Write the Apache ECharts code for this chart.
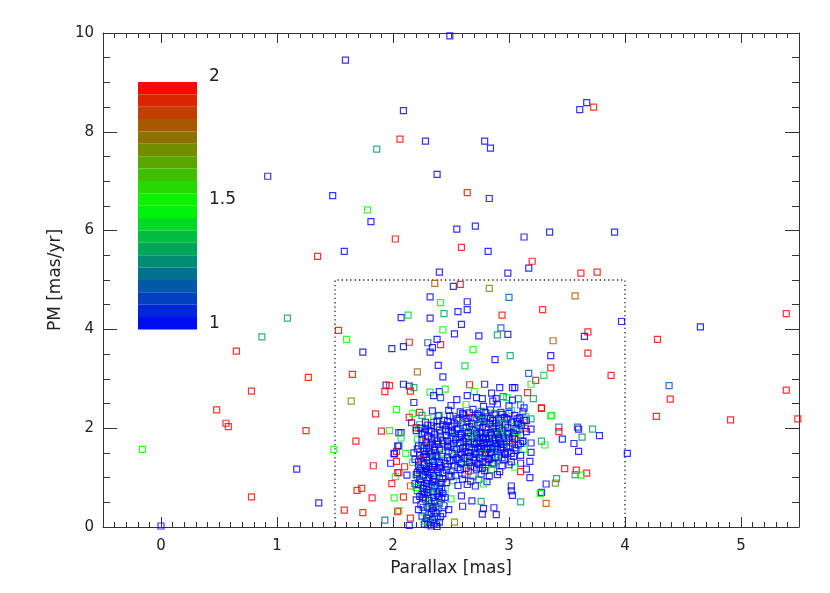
<!DOCTYPE html>
<html>
<head>
<meta charset="utf-8">
<script src="https://cdn.jsdelivr.net/npm/echarts@6/dist/echarts.min.js"></script>
<style>
html, body { margin: 0; padding: 0; background: #fff; }
#pmChart { width: 830px; height: 593px; }
</style>
</head>
<body>
<div id="pmChart"></div>
<script>
// each star: [parallax (mas), PM (mas/yr), colour value 1..2]
var outerStars = [
  [0.00,0.02,1],[-0.16,1.57,1.5],[0.48,2.37,2],[0.56,2.10,2],[0.58,2.03,2],[0.65,3.56,2],
  [0.78,2.75,2],[0.78,0.61,2],[0.87,3.85,1.3],[0.92,7.10,1],[1.09,4.23,1.3],[1.17,1.17,1],
  [1.25,1.95,2],[1.27,3.03,2],[1.35,5.48,2],[1.36,0.49,1],[1.48,6.71,1],[1.49,1.57,1.5],
  [1.59,9.45,1],[1.58,5.58,1],[1.78,6.42,1.5],[1.81,6.18,1],[1.86,7.65,1.3],[2.02,5.83,2],
  [2.06,7.85,2],[2.09,8.43,1],[2.28,7.81,1],[2.38,7.14,1],[2.49,9.94,1],[2.55,6.03,1],
  [2.59,5.66,2],[2.64,6.77,2],[2.71,6.09,1],[2.79,7.81,1],[2.84,7.67,1],[2.83,6.65,1],
  [2.82,5.58,1],[2.40,5.16,1],[2.99,5.14,1],[3.13,5.87,1],[3.35,5.97,1],[3.20,5.38,2],
  [3.17,5.24,1],[3.62,5.14,2],[3.76,5.16,2],[3.61,8.45,1],[3.67,8.59,1],[3.73,8.50,2],
  [3.91,5.97,1],[4.02,1.49,1],[4.27,2.24,2],[4.28,3.80,2],[4.38,2.86,1.15],[4.39,2.59,2],
  [4.65,4.05,1],[4.91,2.17,2],[5.39,4.32,2],[5.39,2.77,2],[5.49,2.19,2]
];

var boxStars = [
  [2.36,4.93,1.85],[2.52,4.87,1],[2.58,4.91,2],[2.83,4.83,1.75],[3.57,4.68,1.85],[2.32,4.66,1],
  [3.00,4.65,1.15],[2.41,4.54,1.5],[2.64,4.56,1],[2.64,4.40,1],[2.56,4.36,1],[2.44,4.32,1.3],
  [2.94,4.29,2],[3.29,4.40,2],[2.07,4.24,1],[2.13,4.29,1.4],[2.32,4.23,1],[3.97,4.16,1],
  [2.59,4.10,1],[1.53,3.98,2],[2.43,3.99,1.5],[2.53,3.91,1],[2.74,3.87,1],[2.93,4.03,1.15],
  [2.90,3.89,1.3],[2.99,3.90,1],[3.68,3.95,2],[3.65,3.86,1],[3.38,3.77,1.85],[1.60,3.80,1.5],
  [2.14,3.74,2],[2.38,3.80,1],[2.30,3.73,1.15],[2.41,3.69,2],[2.09,3.65,1],[2.34,3.63,1],
  [2.32,3.54,1],[1.99,3.61,1],[1.74,3.54,1],[2.69,3.59,1.5],[3.01,3.47,1.3],[2.88,3.39,1],
  [3.36,3.47,1],[3.68,3.52,2],[2.39,3.27,1],[2.62,3.26,1.4],[2.21,3.14,1.8],[2.43,3.04,1],
  [1.65,3.09,2],[3.17,3.11,1.15],[3.30,3.07,1.4],[3.36,3.22,2],[3.23,2.97,2],[3.88,3.07,2],
  [1.94,2.87,1],[1.97,2.86,2],[1.93,2.74,2],[1.64,2.55,1.75],[1.85,2.29,2],[2.03,2.38,1.5],
  [1.90,1.94,2],[1.97,1.95,1.5],[2.05,1.91,1],[1.68,1.74,2],[2.04,1.64,1],[2.03,1.53,2],
  [2.01,1.48,1],[1.83,1.24,2],[1.98,1.29,1],[2.03,1.33,2],[2.04,1.10,2],[2.02,1.02,1.5],
  [1.99,0.88,2],[1.69,0.74,2],[1.73,0.78,2],[1.82,0.59,2],[2.01,0.59,1.5],[1.58,0.34,2],
  [1.74,0.29,2],[2.04,0.31,2],[2.05,0.33,1.5],[1.93,0.14,1.2],
  [3.28,2.40,2],[3.36,2.25,1.5],[3.43,2.02,1.2],[3.43,1.93,2],[3.59,2.02,1.15],[3.60,1.98,1],
  [3.72,1.98,1.3],[3.78,1.85,1],[3.63,1.82,1.25],[3.46,1.78,1],[3.56,1.69,1],[3.60,1.53,1],
  [3.28,1.74,1.3],[3.31,1.66,1.5],[3.48,1.18,2],[3.58,1.15,2],[3.67,1.09,2],[3.57,1.06,1.3],
  [3.62,1.05,1.5],[3.41,0.98,1.3],[3.40,0.89,1.75],[3.32,0.87,1],[3.28,0.70,1],[3.27,0.68,1.5],
  [3.32,0.48,1.85]
];

var haloStars = [
  [2.09,2.89,1],[2.14,2.85,1],[2.18,2.82,1.3],[2.15,2.75,2],[2.32,2.73,1.5],[2.40,2.74,1],
  [2.45,2.79,1.5],[2.35,2.66,1],[2.41,2.62,1.15],[2.66,2.88,2],[2.79,2.89,1],[2.92,2.82,1],
  [3.03,2.82,1],[3.05,2.82,1],[2.70,2.74,1.5],[2.64,2.66,1],[2.77,2.60,1],[2.85,2.71,1],
  [2.89,2.60,1],[2.98,2.62,1.5],[3.08,2.60,1.3],[3.16,2.72,2],[3.19,2.89,1.5],[3.21,2.60,1.3],
  [2.18,2.52,1],[2.14,2.22,2],[2.17,2.30,1.5],[2.23,2.32,2],[2.25,2.26,1.3],[2.34,2.35,1],
  [2.40,2.26,1.5],[3.13,2.41,1],[3.28,2.41,2],[3.37,2.26,1.5],[3.19,2.19,1.3],[3.07,2.19,1],
  [2.16,2.11,1],[2.30,2.06,1],[2.20,2.01,2],[2.22,1.99,1.5],[2.07,1.91,1],[2.07,1.80,1.5],
  [2.05,1.64,1],[2.01,1.49,1],[2.11,1.49,1.5],[2.17,1.31,1.5],[2.05,1.10,2],[2.10,1.22,2],
  [2.12,1.05,1],[2.15,0.83,1.85],[2.21,1.02,1.5],[2.09,0.61,2],[2.15,0.18,2],[2.14,0.03,1],
  [2.53,0.10,1.75],[2.30,0.10,1.5],[2.38,0.01,1],[3.10,0.51,1.3],[3.02,0.73,1],[3.03,0.64,1],
  [2.87,0.39,1],[2.89,0.25,1],[2.78,0.37,1],[2.77,0.26,1],[2.68,0.53,1],[2.76,0.52,1.3],
  [2.60,0.42,1],[2.59,0.63,1],[2.50,0.57,1.5],[2.42,0.76,1],[3.19,1.51,1],[3.18,1.33,1],
  [3.15,1.17,1],[3.18,1.00,1],[3.10,1.12,2],[3.15,2.16,1],[3.19,1.98,1],[3.14,2.00,2],
  [3.10,2.06,1.3],[3.12,1.73,1.3],[3.19,1.70,1],[3.05,1.79,1],[3.10,1.29,1],[3.05,1.21,1.5],
  [3.02,0.83,1]
];

// narrow vertical group near parallax 2.3
var coreA = [
  [2.30,0.05,1],[2.33,0.02,1],[2.36,0.08,1],[2.28,0.12,1.5],[2.34,0.15,1],[2.38,0.18,1.25],
  [2.25,0.22,1],[2.31,0.25,1],[2.41,0.21,1],[2.27,0.30,1.5],[2.35,0.33,1],[2.22,0.35,1],
  [2.39,0.37,1.5],[2.30,0.40,1],[2.44,0.43,1],[2.24,0.45,1],[2.33,0.47,1.25],[2.36,0.52,1],
  [2.20,0.55,1],[2.28,0.57,1],[2.42,0.58,1],[2.31,0.62,1.5],[2.25,0.66,1],[2.38,0.67,1],
  [2.34,0.71,1],[2.21,0.73,1.2],[2.29,0.76,1],[2.45,0.77,1.5],[2.40,0.81,1],[2.26,0.84,1],
  [2.33,0.86,1],[2.19,0.88,1],[2.37,0.91,1.3],[2.30,0.94,1],[2.23,0.97,1],[2.43,0.98,1],
  [2.27,1.02,1.5],[2.35,1.04,1],[2.20,1.06,1],[2.32,1.09,1],[2.39,1.11,1],[2.25,1.14,1.25],
  [2.46,1.15,1],[2.29,1.18,1],[2.36,1.21,2],[2.22,1.23,1],[2.41,1.25,1],[2.31,1.28,1],
  [2.26,1.31,1.5],[2.34,1.33,1],[2.44,1.35,1.25],[2.19,1.37,1],[2.38,1.40,1],[2.29,1.42,1],
  [2.23,1.45,1],[2.33,1.48,1],[2.42,1.50,1.5],[2.27,1.53,1],[2.36,1.55,1],[2.21,1.58,1],
  [2.31,1.61,1.2],[2.47,1.62,1],[2.25,1.65,1],[2.39,1.67,1],[2.34,1.70,1],[2.28,1.73,2],
  [2.43,1.75,1],[2.21,1.78,1.5],[2.36,1.80,1],[2.30,1.84,1],[2.25,1.88,1],[2.41,1.90,1.25],
  [2.33,1.93,1],[2.28,1.98,1],[2.38,2.03,1],[2.23,2.07,1.3],[2.35,2.12,1],[2.44,2.16,1],
  [2.30,2.20,1.5],[2.39,2.25,1],[2.32,0.10,1],[2.37,0.28,1],[2.29,0.49,1.5],[2.35,0.60,1],
  [2.27,0.69,1],[2.40,0.72,1],[2.32,0.79,1.25],[2.24,0.91,1],[2.36,0.96,1],[2.31,1.00,1],
  [2.38,1.07,1.5],[2.28,1.12,1],[2.33,1.16,1],[2.24,1.19,1],[2.40,1.20,1],[2.30,1.35,1],
  [2.35,1.38,1.5],[2.27,1.47,1],[2.40,1.58,1],[2.32,1.66,1],[2.26,1.60,1.25],[2.37,1.45,1],
  [2.45,1.28,1],[2.21,1.10,1],[2.42,0.90,1],[2.26,0.60,1],[2.34,0.38,1],[2.40,0.48,1.25],
  [2.20,0.80,1.5],[2.48,1.05,1],[2.18,1.50,1],[2.46,1.85,1],[2.20,1.95,1],[2.31,1.52,1],
  [2.34,1.24,1],[2.29,0.88,1],[2.36,0.74,1.5],[2.24,1.38,2]
];

// broad group near parallax 2.85
var coreB = [
  [2.55,2.58,1],[2.72,2.62,1],[2.86,2.55,1],[2.95,2.64,1.25],[3.03,2.57,1],
  [2.50,2.46,1],[2.63,2.48,1.5],[2.78,2.44,1],[2.90,2.49,1],[3.00,2.45,1],[3.10,2.47,1.25],
  [2.48,2.36,1],[2.58,2.33,1],[2.69,2.38,1],[2.76,2.34,1.25],[2.84,2.37,1],[2.93,2.32,1],
  [3.02,2.36,1.5],[3.12,2.33,1],
  [2.52,2.24,1.25],[2.61,2.27,1],[2.67,2.22,2],[2.74,2.26,1],[2.81,2.23,1],[2.88,2.27,1],
  [2.96,2.22,1],[3.05,2.26,1],[3.14,2.24,1.5],
  [2.47,2.14,1],[2.56,2.16,1],[2.64,2.13,1],[2.71,2.17,1.5],[2.79,2.14,1],[2.86,2.16,1],
  [2.92,2.12,1.25],[2.99,2.17,1],[3.07,2.13,1],[3.13,2.16,1],
  [2.50,2.04,1],[2.58,2.07,1.5],[2.66,2.03,1],[2.73,2.06,1],[2.80,2.02,1],[2.84,2.08,1.25],
  [2.91,2.04,1],[2.97,2.07,1],[3.04,2.03,1.5],[3.11,2.06,1],
  [2.48,1.94,1],[2.55,1.97,1],[2.62,1.93,1.25],[2.69,1.96,1],[2.75,1.92,1],[2.82,1.97,1.8],
  [2.88,1.93,1],[2.94,1.96,1],[3.00,1.92,1],[3.07,1.95,1.25],[3.15,1.93,1],
  [2.52,1.84,1.5],[2.59,1.86,1],[2.65,1.83,1],[2.72,1.87,1],[2.78,1.84,1.3],[2.85,1.86,1],
  [2.91,1.82,1],[2.97,1.87,1.5],[3.03,1.84,1],[3.10,1.86,1],
  [2.47,1.74,1],[2.54,1.77,1],[2.61,1.73,1],[2.67,1.76,1.5],[2.74,1.72,1],[2.80,1.77,1],
  [2.86,1.74,1.25],[2.92,1.76,1],[2.98,1.72,1],[3.05,1.77,2],[3.12,1.74,1],
  [2.50,1.64,1],[2.57,1.66,1.25],[2.63,1.62,1],[2.70,1.67,1],[2.76,1.63,1],[2.83,1.66,1.5],
  [2.89,1.63,1],[2.95,1.67,1],[3.01,1.63,1.25],[3.08,1.66,1],
  [2.48,1.54,1],[2.55,1.57,1],[2.62,1.53,1],[2.68,1.56,1.25],[2.75,1.52,1],[2.81,1.57,1],
  [2.87,1.54,1.5],[2.93,1.56,1],[2.99,1.52,1],[3.06,1.55,1],[3.13,1.57,1.5],
  [2.52,1.44,1.5],[2.59,1.46,1],[2.66,1.43,1],[2.72,1.47,1],[2.79,1.44,2],[2.85,1.46,1],
  [2.91,1.42,1.25],[2.97,1.47,1],[3.04,1.43,1],[3.10,1.45,1],
  [2.49,1.34,1],[2.56,1.37,1],[2.63,1.33,1.25],[2.70,1.36,1],[2.77,1.32,1],[2.83,1.37,1],
  [2.90,1.34,1.5],[2.96,1.36,1],[3.02,1.32,1],
  [2.53,1.24,1],[2.60,1.27,1.5],[2.67,1.23,1],[2.74,1.26,1],[2.80,1.22,1.25],[2.87,1.27,1],
  [2.94,1.24,1],[3.00,1.26,1],
  [2.50,1.14,1.25],[2.58,1.16,1],[2.65,1.13,2],[2.72,1.17,1],[2.79,1.14,1],[2.85,1.16,1.5],
  [2.92,1.12,1],
  [2.54,1.04,1],[2.62,1.06,1],[2.69,1.03,1.25],[2.76,1.07,1],[2.83,1.03,1],[2.90,1.06,1],
  [2.52,0.94,1.5],[2.60,0.97,1],[2.67,0.93,1],[2.74,0.96,1.25],[2.81,0.92,1],
  [2.56,0.84,1],[2.64,0.86,1],[2.71,0.83,1],[2.78,0.87,1.5],
  [2.80,1.80,1],[2.84,1.70,1],[2.88,1.78,1],[2.78,1.68,1],[2.90,1.88,1],[2.76,1.90,1],
  [2.82,1.60,1],[2.87,1.92,1.25],[2.93,1.70,1],[2.73,1.80,1],[2.95,1.80,1],[2.70,1.72,1],
  [2.86,2.00,1],[2.80,1.50,1],[2.90,1.58,1],[2.75,1.58,1],[2.68,1.88,1.5],[2.98,1.62,1],
  [2.83,2.10,1],[2.77,2.20,1]
];

// extra fill of the densest parts of both groups
var coreC = [
  [2.60,2.30,1],[2.66,2.31,1],[2.73,2.29,1],[2.80,2.31,1],[2.87,2.30,1.25],[2.94,2.28,1],[3.00,2.30,1],
  [2.55,2.19,1],[2.63,2.20,1],[2.70,2.21,1],[2.77,2.18,1.3],[2.84,2.20,1],[2.91,2.19,1],[2.98,2.20,1],[3.09,2.21,1],
  [2.53,2.10,1],[2.60,2.11,1.2],[2.68,2.09,1],[2.75,2.11,1],[2.89,2.10,1],[2.95,2.09,1.5],[3.02,2.11,1],[3.08,2.09,1],
  [2.56,2.00,1],[2.63,2.01,1],[2.70,1.99,1.3],[2.77,2.01,1],[2.92,2.00,1],[2.99,2.01,1],[3.06,1.99,1],
  [2.51,1.90,1],[2.58,1.89,1],[2.65,1.91,1],[2.72,1.90,1],[2.80,1.89,1],[2.84,1.91,1],[2.93,1.90,1.3],[2.99,1.88,1],[3.04,1.90,1],
  [2.50,1.80,1],[2.57,1.81,1],[2.63,1.79,1],[2.70,1.80,1.2],[2.77,1.81,1],[2.83,1.79,1],[2.91,1.79,1],[3.00,1.80,1],[3.07,1.81,1.5],
  [2.52,1.69,1],[2.58,1.71,1],[2.65,1.70,1],[2.72,1.69,1],[2.81,1.71,1],[2.88,1.69,1],[2.96,1.71,1.25],[3.03,1.70,1],[3.10,1.69,1],
  [2.53,1.60,1.2],[2.60,1.59,1],[2.66,1.61,1],[2.73,1.60,1],[2.79,1.59,1],[2.86,1.60,1],[2.93,1.61,1],[3.05,1.60,1],
  [2.51,1.49,1],[2.58,1.50,1],[2.65,1.51,1],[2.71,1.50,1],[2.77,1.49,1.3],[2.84,1.51,1],[2.96,1.50,1],[3.02,1.49,1],
  [2.55,1.40,1],[2.62,1.39,1],[2.69,1.41,1],[2.75,1.40,1],[2.82,1.39,1],[2.88,1.41,1],[2.94,1.40,1],
  [2.59,1.30,1],[2.66,1.31,1],[2.73,1.29,1],[2.80,1.31,1],[2.86,1.30,1],
  [2.56,1.20,1],[2.63,1.19,1],[2.70,1.21,1],[2.77,1.19,1]
];

var coreD = [
  [2.27,0.06,1],[2.40,0.10,1],[2.29,0.18,1],[2.43,0.27,1],[2.33,0.30,1],[2.26,0.40,1],[2.37,0.42,1],
  [2.31,0.54,1],[2.23,0.62,1],[2.39,0.62,1],[2.30,0.70,1],[2.43,0.68,1],[2.26,0.78,1],[2.36,0.83,1],
  [2.22,0.86,1],[2.34,0.92,1],[2.40,0.99,1],[2.26,1.05,1],[2.30,1.10,1],[2.43,1.09,1],[2.23,1.15,1],
  [2.38,1.16,1],[2.31,1.22,1],[2.27,1.26,1],[2.40,1.31,1],[2.22,1.32,1],[2.34,1.43,1],[2.26,1.41,1],
  [2.42,1.43,1],[2.29,1.58,1],[2.36,1.62,1],[2.22,1.64,1],[2.43,1.68,1],[2.29,1.70,1],[2.38,1.74,1],
  [2.25,1.77,1],[2.33,1.78,1],[2.41,1.82,1],[2.27,1.92,1],[2.36,1.88,1],[2.31,1.96,1],[2.40,1.96,1],
  [2.24,2.00,1],[2.33,2.05,1],[2.43,2.07,1],[2.28,2.12,1],[2.38,2.15,1],[2.45,1.98,1],[2.47,1.40,1],
  [2.46,0.90,1],[2.49,2.25,1],[2.46,2.05,1],[2.51,1.95,1],[2.47,1.64,1],[2.52,1.35,1],[2.47,1.22,1],
  [2.50,1.02,1],[2.45,0.60,1],[2.48,0.35,1]
];

// dotted selection box
var boxCorners = [[1.5, 0], [1.5, 5], [4, 5], [4, 0]];
var colourTicks = ["2", "1.5", "1"];

// blue -> green -> red colour table, value 1..2
function colourOf(v) {
  var t = Math.max(0, Math.min(1, v - 1));
  var r, g, b;
  if (t < 0.5) { r = 0; g = Math.round(510 * t); b = Math.round(255 - 510 * t); }
  else { r = Math.round(510 * (t - 0.5)); g = Math.round(255 - 510 * (t - 0.5)); b = 0; }
  return "rgb(" + r + "," + g + "," + b + ")";
}

var stars = [].concat(outerStars, boxStars, haloStars, coreA, coreB, coreC, coreD).map(function (s) {
  return {
    value: [s[0], s[1]],
    itemStyle: { borderColor: colourOf(s[2]) }
  };
});

var pieces = [];
for (var i = 0; i < 20; i++) {
  pieces.push({ min: 1 + i * 0.05, max: 1 + (i + 1) * 0.05, color: colourOf(1 + (i + 0.5) * 0.05) });
}

var font = "DejaVu Sans";
var ink = "#222";
var tickStyle = { color: "#333", width: 1 };

function xAx(pos, labels) {
  return {
    type: "value", position: pos, min: -0.5, max: 5.5, splitNumber: 6,
    name: labels ? "Parallax [mas]" : "", nameLocation: "middle", nameGap: 33,
    nameTextStyle: { fontFamily: font, fontSize: 17, color: ink },
    axisLine: { show: true, onZero: false, lineStyle: tickStyle },
    axisTick: { show: true, inside: true, length: 10, lineStyle: tickStyle },
    minorTick: { show: true, splitNumber: 10, length: 5, lineStyle: tickStyle },
    axisLabel: { show: labels, margin: 12, fontFamily: font, fontSize: 15, color: ink,
                 showMinLabel: false, showMaxLabel: false },
    splitLine: { show: false }, minorSplitLine: { show: false }
  };
}

function yAx(pos, labels) {
  return {
    type: "value", position: pos, min: 0, max: 10, interval: 2,
    name: labels ? "PM [mas/yr]" : "", nameLocation: "middle", nameGap: 37,
    nameTextStyle: { fontFamily: font, fontSize: 17, color: ink },
    axisLine: { show: true, onZero: false, lineStyle: tickStyle },
    axisTick: { show: true, inside: true, length: 14, lineStyle: tickStyle },
    minorTick: { show: true, splitNumber: 4, length: 7, lineStyle: tickStyle },
    axisLabel: { show: labels, margin: 9, fontFamily: font, fontSize: 15, color: ink },
    splitLine: { show: false }, minorSplitLine: { show: false }
  };
}

var chart = echarts.init(document.getElementById("pmChart"));
chart.setOption({
  animation: false,
  backgroundColor: "#fff",
  grid: { left: 103, right: 31, top: 33, bottom: 66, containLabel: false },
  xAxis: [xAx("bottom", true), xAx("top", false)],
  yAxis: [yAx("left", true), yAx("right", false)],
  visualMap: {
    type: "piecewise",
    seriesIndex: 2,
    pieces: pieces,
    orient: "vertical",
    left: 138, top: 82, padding: 0,
    itemWidth: 59, itemHeight: 12.37, itemGap: 0,
    itemSymbol: "rect",
    showLabel: false,
    selectedMode: false,
    hoverLink: false
  },
  graphic: colourTicks.map(function (t, k) {
    return {
      type: "text", left: 209, top: [68, 191, 315][k],
      style: { text: t, fontFamily: font, fontSize: 17, fill: ink }
    };
  }),
  series: [
    {
      type: "line",
      data: boxCorners,
      symbol: "none",
      silent: true,
      z: 1,
      lineStyle: { color: "#222", width: 1.3, type: [1.3, 3] }
    },
    {
      type: "scatter",
      data: stars,
      symbol: "rect",
      symbolSize: 6,
      silent: true,
      z: 2,
      itemStyle: { color: "rgba(0,0,0,0)", borderWidth: 1.2 }
    },
    { type: "scatter", data: [] }
  ]
});
</script>
</body>
</html>
